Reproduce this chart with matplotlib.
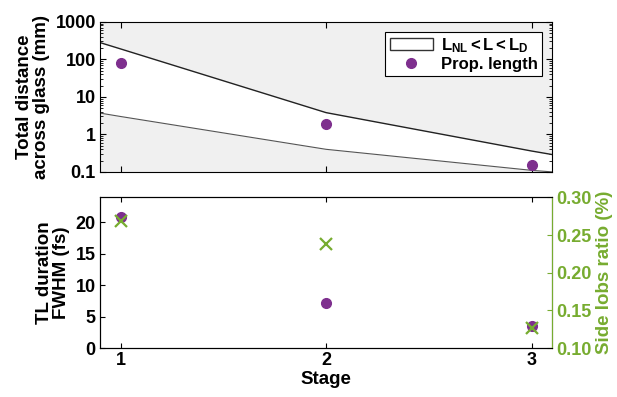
"""Propagation length band and TL duration / side lobes per stage."""

import matplotlib

matplotlib.use("Agg")
import matplotlib.pyplot as plt
from matplotlib.patches import Patch
from matplotlib.lines import Line2D

plt.rcParams["font.family"] = ["Liberation Sans", "DejaVu Sans"]
plt.rcParams["font.weight"] = "bold"
plt.rcParams["mathtext.fontset"] = "custom"
plt.rcParams["mathtext.rm"] = "Liberation Sans:bold"
plt.rcParams["mathtext.it"] = "Liberation Sans:bold"
plt.rcParams["mathtext.bf"] = "Liberation Sans:bold"

PURPLE = "#7e2f8e"
GREEN = "#77ac30"
TICK_SIZE = 13
LABEL_SIZE = 13.5

stages = [1, 2, 3]

# band edges (mm), read at the axis edges and at each stage
band_x = [0.9, 1, 2, 3, 3.1]
l_dispersion = [280, 190, 3.8, 0.36, 0.29]
l_nonlinear = [3.7, 3.0, 0.40, 0.11, 0.10]
prop_length = [82, 1.95, 0.15]

tl_fwhm = [20.9, 7.2, 3.6]
side_lobes = [0.268, 0.238, 0.127]

fig = plt.figure(figsize=(6.17, 3.97), dpi=100)
ax1 = fig.add_axes([0.162, 0.567, 0.733, 0.378])
ax2 = fig.add_axes([0.162, 0.123, 0.733, 0.380])

# top panel: allowed region is white, the rest light gray
ax1.set_facecolor("#f0f0f0")
ax1.fill_between(band_x, l_nonlinear, l_dispersion, color="white", linewidth=0)
ax1.plot(band_x, l_dispersion, color="#222222", linewidth=1.0)
ax1.plot(band_x, l_nonlinear, color="#555555", linewidth=0.8)
ax1.plot(stages, prop_length, "o", color=PURPLE, markersize=7)
ax1.set_yscale("log")
ax1.set_ylim(0.1, 1000)
ax1.set_xlim(0.9, 3.1)
ax1.set_xticks(stages)
ax1.set_xticklabels([])
ax1.set_yticks([0.1, 1, 10, 100, 1000])
ax1.set_yticklabels(["0.1", "1", "10", "100", "1000"])
ax1.tick_params(which="both", direction="in", top=True, right=True, labelsize=TICK_SIZE,
                pad=3)
ax1.tick_params(which="major", length=4)
ax1.tick_params(which="minor", length=2)
ax1.set_ylabel("Total distance\nacross glass (mm)", fontsize=LABEL_SIZE, fontweight="bold",
               linespacing=1.0, labelpad=4)

handles = [
    Patch(facecolor="white", edgecolor="#333333", linewidth=1.0),
    Line2D([], [], marker="o", linestyle="none", color=PURPLE, markersize=7),
]
labels = [r"$L_{NL} < L < L_D$", "Prop. length"]
leg = ax1.legend(handles, labels, loc="upper right", fontsize=12, fancybox=False,
                 framealpha=1, edgecolor="black", borderpad=0.25, handlelength=2.6,
                 handletextpad=0.5, labelspacing=0.15, borderaxespad=0.6)
leg.get_frame().set_linewidth(0.8)

# bottom panel: TL duration on the left, side lobes on the right
ax2.plot(stages, tl_fwhm, "o", color=PURPLE, markersize=7)
ax2.set_xlim(0.9, 3.1)
ax2.set_ylim(0, 24)
ax2.set_xticks(stages)
ax2.set_yticks([0, 5, 10, 15, 20])
ax2.tick_params(direction="in", top=True, labelsize=TICK_SIZE, pad=3)
ax2.set_xlabel("Stage", fontsize=LABEL_SIZE, fontweight="bold", labelpad=1)
ax2.set_ylabel("TL duration\nFWHM (fs)", fontsize=LABEL_SIZE, fontweight="bold",
               linespacing=1.0, labelpad=4)

ax3 = ax2.twinx()
ax3.plot(stages, side_lobes, "x", color=GREEN, markersize=8, markeredgewidth=1.6)
ax3.set_ylim(0.10, 0.30)
ax3.set_yticks([0.10, 0.15, 0.20, 0.25, 0.30])
ax3.set_yticklabels(["0.10", "0.15", "0.20", "0.25", "0.30"])
ax3.tick_params(direction="in", colors=GREEN, labelsize=TICK_SIZE, pad=3)
ax3.spines["right"].set_color(GREEN)
ax3.set_ylabel("Side lobs ratio (%)", color=GREEN, fontsize=LABEL_SIZE, fontweight="bold",
               labelpad=3)

fig.savefig("out.png", dpi=100)
